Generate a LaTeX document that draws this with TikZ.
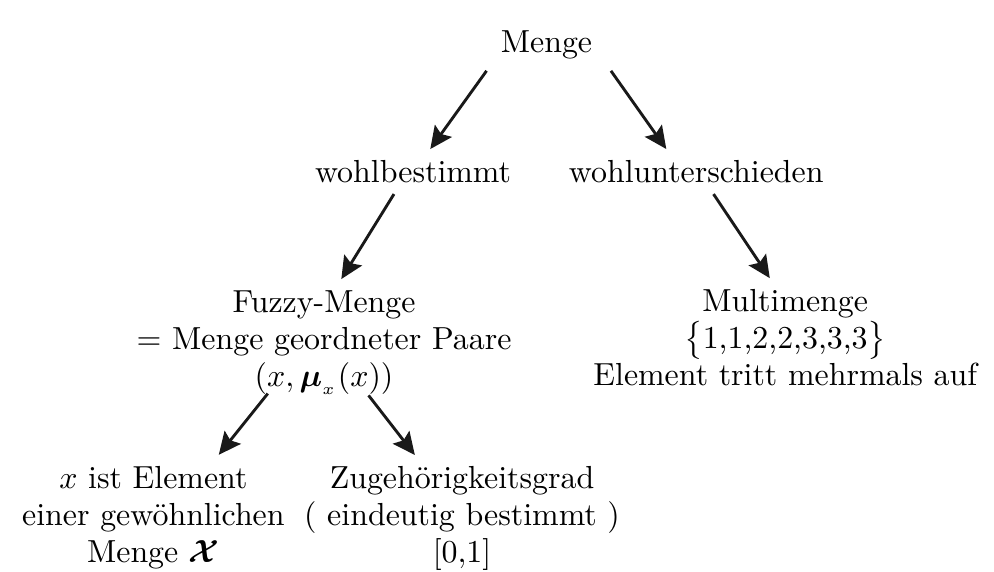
\documentclass[tikz,border=0pt]{standalone}
\usepackage{fontspec}
\usepackage{amsmath,bm}
\usetikzlibrary{arrows.meta}

\tikzstyle{term} = [align=center, inner sep=3.33pt, font=\fontsize{10}{11.6}\selectfont]
\tikzstyle{link} = [-{Stealth[length=7pt,width=6.5pt,inset=1.2pt]}, line width=0.9pt, draw=black!90]

\begin{document}
\begin{tikzpicture}
  \useasboundingbox (0,0) rectangle (10.95,-6.30);

%Nodes
	\node[term] (menge) at (6.02,-0.50) {Menge};
	\node[term] (wohl)  at (4.55,-1.89) {wohlbestimmt};
	\node[term] (unter) at (7.67,-1.89) {wohlunterschieden};
	\node[term] (fuzzy) at (3.57,-3.77) {Fuzzy-Menge\\ $=$ Menge geordneter Paare\\ $(x,\bm{\mu}_{_x}(x))$};
	\node[term] (multi) at (8.65,-3.72) {Multimenge\\ $\big\{$1,1,2,2,3,3,3$\big\}$\\ Element tritt mehrmals auf};
	\node[term] (elem)  at (1.69,-5.70) {$x$ ist Element\\ einer gewöhnlichen\\ Menge $\bm{\mathcal{X}}$};
	\node[term] (grad)  at (5.09,-5.71) {Zugehörigkeitsgrad\\ ( eindeutig bestimmt )\\ $[0{,}1]$};

%Connections
	\draw[link] ([xshift=-0.66cm]menge.south) -- ([xshift=0.19cm]wohl.north);
	\draw[link] ([xshift=0.71cm]menge.south) -- ([xshift=-0.33cm]unter.north);
	\draw[link] ([xshift=-0.21cm]wohl.south) -- ([xshift=0.19cm]fuzzy.north);
	\draw[link] ([xshift=0.19cm]unter.south) -- ([xshift=-0.17cm]multi.north);
	\draw[link] ([shift={(-0.62cm,0.13cm)}]fuzzy.south) -- ([xshift=0.72cm]elem.north);
	\draw[link] ([shift={(0.49cm,0.11cm)}]fuzzy.south) -- ([xshift=-0.52cm]grad.north);

\end{tikzpicture}
\end{document}
